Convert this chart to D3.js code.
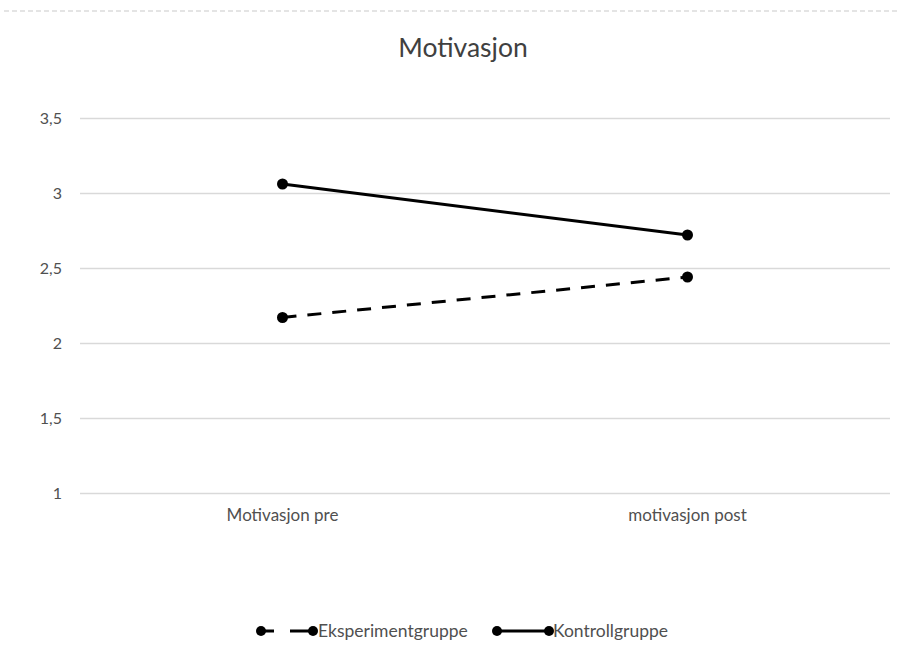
<!DOCTYPE html>
<html>
<head>
<meta charset="utf-8">
<script src="https://cdn.jsdelivr.net/npm/d3@7"></script>
<style>
  html, body { margin: 0; padding: 0; background: #fff; }
  svg { display: block; font-family: Lato, "Open Sans", sans-serif; }
</style>
</head>
<body>
<svg id="chart" width="904" height="661"></svg>
<script>
// Mean motivation scores before and after, per group
const categories = ["Motivasjon pre", "motivasjon post"];
const eksperimentgruppe = [2.17, 2.44];
const kontrollgruppe = [3.06, 2.72];
const yTicks = [1, 1.5, 2, 2.5, 3, 3.5];
const yTickLabels = ["1", "1,5", "2", "2,5", "3", "3,5"];
const seriesNames = ["Eksperimentgruppe", "Kontrollgruppe"];

const svg = d3.select("#chart");
const W = 904, H = 661;
const plot = { left: 80, right: 890, top: 118, bottom: 493 };
const textColor = "#505050";

// faint dashed frame edge along the top
svg.append("line")
  .attr("x1", 4).attr("x2", W - 4)
  .attr("y1", 11).attr("y2", 11)
  .attr("stroke", "#e4e4e4").attr("stroke-width", 2)
  .attr("stroke-dasharray", "5,3");

svg.append("text")
  .attr("x", 463).attr("y", 57)
  .attr("text-anchor", "middle")
  .attr("font-size", 26.5)
  .attr("fill", "#404040")
  .text("Motivasjon");

const x = d3.scaleBand().domain(categories).range([plot.left, plot.right]);
const y = d3.scaleLinear().domain([1, 3.5]).range([plot.bottom, plot.top]);

// horizontal gridlines + y labels
const yAxis = d3.axisLeft(y)
  .tickValues(yTicks)
  .tickSize(-(plot.right - plot.left))
  .tickPadding(18)
  .tickFormat((d, i) => yTickLabels[i]);

const gy = svg.append("g")
  .attr("transform", `translate(${plot.left},0)`)
  .call(yAxis);
gy.select(".domain").remove();
gy.selectAll(".tick line").attr("stroke", "#d9d9d9").attr("stroke-width", 1.3);
gy.selectAll(".tick text")
  .attr("font-size", 16).attr("fill", textColor)
  .attr("font-family", "Lato, 'Open Sans', sans-serif");

// category labels
const xAxis = d3.axisBottom(x).tickSize(0).tickPadding(16);
const gx = svg.append("g")
  .attr("transform", `translate(0,${plot.bottom})`)
  .call(xAxis);
gx.select(".domain").remove();
gx.selectAll(".tick text")
  .attr("font-size", 17).attr("fill", textColor)
  .attr("font-family", "Lato, 'Open Sans', sans-serif");

const cx = c => x(c) + x.bandwidth() / 2;
const line = d3.line()
  .x((d, i) => cx(categories[i]))
  .y(d => y(d));

const series = [
  { name: seriesNames[0], values: eksperimentgruppe, dash: "14,11" },
  { name: seriesNames[1], values: kontrollgruppe, dash: null }
];

series.forEach(s => {
  svg.append("path")
    .datum(s.values)
    .attr("d", line)
    .attr("fill", "none")
    .attr("stroke", "#000")
    .attr("stroke-width", 3)
    .attr("stroke-dasharray", s.dash);
  svg.selectAll(null)
    .data(s.values)
    .enter().append("circle")
    .attr("cx", (d, i) => cx(categories[i]))
    .attr("cy", d => y(d))
    .attr("r", 5.5)
    .attr("fill", "#000");
});

// legend
const legendY = 631;
const legendItems = [
  { x0: 261, x1: 313, tx: 318 },
  { x0: 497, x1: 549, tx: 553 }
];
series.forEach((s, i) => {
  const L = legendItems[i];
  svg.append("line")
    .attr("x1", L.x0).attr("x2", L.x1)
    .attr("y1", legendY).attr("y2", legendY)
    .attr("stroke", "#000").attr("stroke-width", 3)
    .attr("stroke-dasharray", s.dash ? "13,16,23,100" : null);
  [L.x0, L.x1].forEach(px => {
    svg.append("circle").attr("cx", px).attr("cy", legendY).attr("r", 5).attr("fill", "#000");
  });
  svg.append("text")
    .attr("x", L.tx).attr("y", legendY + 6)
    .attr("font-size", 17.5).attr("fill", textColor)
    .text(s.name);
});
</script>
</body>
</html>
